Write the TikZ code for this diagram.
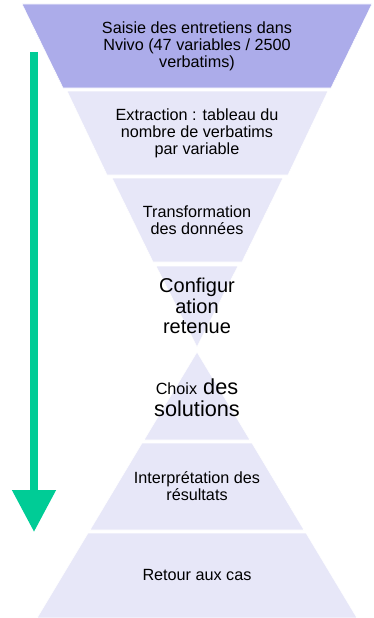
\documentclass[tikz,border=0pt]{standalone}
\usepackage{fontspec}
\setmainfont{Liberation Sans}
\usepackage{xcolor}
\usepackage{tikz}
\usetikzlibrary{arrows.meta}
\definecolor{bandtop}{RGB}{172,172,234}
\definecolor{bandlight}{RGB}{231,231,248}
\definecolor{flowgreen}{RGB}{0,204,150}

\begin{document}
\begin{tikzpicture}[x=1pt,y=-1pt,every node/.style={align=center,inner sep=0pt,font=\fontsize{16.2}{17}\selectfont},
    band/.style={fill=bandlight,draw=white,line width=0.6pt}]
    %
    \useasboundingbox (0,0) rectangle (373,618);
    %
    \filldraw[band,fill=bandtop] (22,4) -- (372,4) -- (331,88) -- (63,88) -- cycle;
    \filldraw[band] (67,91) -- (328,91) -- (288,175) -- (107,175) -- cycle;
    \filldraw[band] (112,178) -- (283,178) -- (242,262) -- (153,262) -- cycle;
    \filldraw[band] (156,266) -- (238,266) -- (197,347) -- cycle;
    \filldraw[band] (197,352) -- (250,440) -- (144,440) -- cycle;
    \filldraw[band] (142,443) -- (252,443) -- (304,530) -- (90,530) -- cycle;
    \filldraw[band] (88,533) -- (306,533) -- (357,618) -- (37,618) -- cycle;
    %
    \node (saisie) at (197,46) {Saisie des entretiens dans\\Nvivo (47 variables / 2500\\verbatims)};
    \node (extraction) at (197,133) {Extraction : tableau du\\nombre de verbatims\\par variable};
    \node (transfo) at (197,220) {Transformation\\des donn\'ees};
    \node[font=\fontsize{20}{20.5}\selectfont] (config) at (197,306) {Configur\\ation\\retenue};
    \node[font=\fontsize{21.7}{22}\selectfont] (choix) at (197,398) {{\fontsize{16.2}{17}\selectfont Choix} des\\solutions};
    \node (interp) at (197,486) {Interpr\'etation des\\r\'esultats};
    \node (retour) at (197,575) {Retour aux cas};
    %
    \coordinate (arrtop) at (34,52);
    \coordinate (arrtip) at (34,532);
    \draw[flowgreen,line width=8pt,-{Triangle[length=42pt,width=42pt]}] (arrtop) -- (arrtip);
    %
\end{tikzpicture}
\end{document}
